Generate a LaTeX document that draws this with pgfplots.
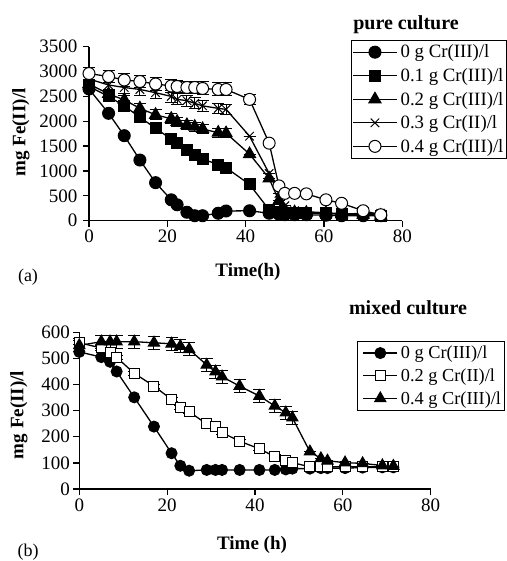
\documentclass[border=0pt]{standalone}
\usepackage{pgfplots}
\pgfplotsset{compat=1.18}
\usepackage{pgfplotstable}
\usepackage{fontspec}
\setmainfont{Liberation Serif}
\pgfplotstableread{
t v e
0 2650 0
5 2160 0
9 1710 0
13 1220 0
17 765 0
21 420 0
22.5 320 0
25 170 0
27 100 0
29 100 0
33 150 0
35 195 0
41 200 0
46 150 0
48.5 130 0
50 120 0
52.5 120 0
55.5 120 0
60.5 110 0
64.5 100 0
70 100 0
74.5 100 0
}\pa
\pgfplotstableread{
t v e
0 2700 0
5 2500 0
9 2310 0
13 2080 0
17 1860 0
21 1640 0
22.5 1570 0
25 1420 0
27 1320 0
29 1240 0
33 1130 0
35 1065 0
41 730 0
46 220 0
48.5 170 0
50 150 0
52.5 150 0
55.5 150 0
60.5 150 0
64.5 130 0
70 150 0
74.5 100 0
}\pb
\pgfplotstableread{
t v e
0 2750 80
5 2550 80
9 2430 90
13 2260 100
17 2130 100
21 2050 100
22.5 1990 90
25 1925 90
27 1890 90
29 1845 90
33 1770 90
35 1760 90
41 1340 0
46 850 0
48.5 400 0
50 200 0
52.5 170 0
55.5 160 0
60.5 150 0
64.5 130 0
70 120 0
74.5 100 0
}\pc
\pgfplotstableread{
t v e
0 2850 120
5 2730 130
9 2680 130
13 2640 130
17 2575 120
21 2500 120
22.5 2440 110
25 2415 110
27 2360 110
29 2310 110
33 2260 100
35 2240 100
41 1700 0
46 950 0
48.5 550 0
50 300 0
52.5 200 0
55.5 180 0
60.5 160 0
64.5 140 0
70 130 0
74.5 150 0
}\pd
\pgfplotstableread{
t v e
0 2960 120
5 2900 130
9 2830 130
13 2800 130
17 2750 130
21 2710 130
22.5 2700 130
25 2680 130
27 2680 130
29 2660 130
33 2640 130
35 2640 130
41 2440 100
46 1560 0
48.5 700 0
50 550 0
52.5 550 0
55.5 540 0
60.5 420 0
64.5 350 0
70 200 0
74.5 120 0
}\pe
\pgfplotstableread{
t v e
0 525 0
5 505 0
7 487 0
8.5 450 0
12.5 351 0
17 239 0
21 137 0
23 89 0
25 70 0
29 73 0
31 73 0
32.5 73 0
36.5 73 0
41 73 0
44.5 73 0
47 75 0
48.5 78 0
52.5 78 0
55 80 0
56.5 80 0
60.5 80 0
64.5 82 0
69 83 0
71.5 83 0
}\qa
\pgfplotstableread{
t v e
0 560 8
5 540 8
7 522 8
8.5 504 8
12.5 443 8
17 394 8
21 343 8
23 313 8
25 296 8
29 249 8
31 239 8
32.5 216 8
36.5 183 8
41 154 8
44.5 124 8
47 108 8
48.5 101 8
52.5 85 0
55 85 0
56.5 85 0
60.5 85 0
64.5 85 0
69 85 0
71.5 85 0
}\qb
\pgfplotstableread{
t v e
0 550 25
5 564 25
7 564 25
8.5 564 25
12.5 564 25
17 560 25
21 556 25
23 547 25
25 535 25
29 475 25
31 449 25
32.5 430 25
36.5 394 25
41 356 25
44.5 318 25
47 292 25
48.5 273 25
52.5 143 0
55 117 0
56.5 108 0
60.5 101 0
64.5 98 0
69 90 0
71.5 88 0
}\qc
\pgfplotsset{
  every axis/.append style={
    scale only axis, axis lines=left, axis line style={line width=1.3pt,-},
    tick align=outside, major tick length=6pt,
    tick style={line width=1.3pt,black},
    tick label style={font=\fontsize{19}{22}\selectfont},
    /pgf/number format/assume math mode=true,
    /pgf/number format/set thousands separator={},
    clip=false,
    legend cell align=left,
  },
  every axis plot post/.append style={black, line width=1.3pt},
  /pgfplots/error bars/error bar style={line width=1pt,black},
  /pgfplots/error bars/error mark options={rotate=90,mark size=6pt,line width=1pt,black},
}
\begin{document}
\begin{tikzpicture}
\useasboundingbox (0,0) rectangle (506pt,-561pt);
\begin{axis}[at={(89pt,-220.7pt)}, anchor=south west, width=313.3pt, height=174pt,
  xmin=0, xmax=80, ymin=0, ymax=3500, xtick={0,20,...,80}, ytick={0,500,...,3500},
  yticklabel style={xshift=-2pt},
  legend image code/.code={\draw[mark repeat=2,mark phase=2,#1] plot coordinates {(0pt,0pt) (22pt,0pt) (44pt,0pt)};},
  legend style={at={(0.836,1.0385)}, anchor=north west, draw=black, line width=0.8pt,
    font=\fontsize{18.8}{22}\selectfont, inner xsep=1pt, inner ysep=2.5pt, row sep=5pt,
    /tikz/every odd column/.append style={column sep=1pt}}]
\addplot[mark=*, mark size=6pt, mark options={solid,fill=black,line width=1pt}] table[x=t,y=v] {\pa};
\addlegendentry{0 g Cr(III)/l}
\addplot[mark=square*, mark size=5.5pt, mark options={solid,fill=black,line width=1pt}] table[x=t,y=v] {\pb};
\addlegendentry{0.1 g Cr(III)/l}
\addplot[mark=triangle*, mark size=7pt, mark options={solid,fill=black,line width=1pt},
  error bars/.cd, y dir=both, y explicit] table[x=t,y=v,y error=e] {\pc};
\addlegendentry{0.2 g Cr(III)/l}
\addplot[mark=x, mark size=6pt, mark options={solid,line width=1pt},
  error bars/.cd, y dir=both, y explicit] table[x=t,y=v,y error=e] {\pd};
\addlegendentry{0.3 g Cr(II)/l}
\addplot[mark=*, mark size=6pt, mark options={solid,fill=white,line width=1pt},
  error bars/.cd, y dir=both, y explicit] table[x=t,y=v,y error=e] {\pe};
\addlegendentry{0.4 g Cr(III)/l}
\end{axis}
\begin{axis}[at={(79.3pt,-489pt)}, anchor=south west, width=351.4pt, height=156.7pt,
  xmin=0, xmax=80, ymin=0, ymax=600, xtick={0,20,...,80}, ytick={0,100,...,600},
  legend image code/.code={\path (0pt,0pt); \draw[mark repeat=2,mark phase=2,#1] plot coordinates {(4pt,0pt) (21pt,0pt) (38pt,0pt)};},
  legend style={at={(0.791,0.944)}, anchor=north west, draw=black, line width=0.8pt,
    font=\fontsize{18.3}{22}\selectfont, inner xsep=1pt, inner ysep=2.5pt, row sep=4.5pt,
    /tikz/every odd column/.append style={column sep=1pt}}]
\addplot[mark=*, mark size=5.5pt, mark options={solid,fill=black,line width=1pt}] table[x=t,y=v] {\qa};
\addlegendentry{0 g Cr(III)/l}
\addplot[mark=square*, mark size=5pt, mark options={solid,fill=white,line width=1pt},
  error bars/.cd, y dir=both, y explicit] table[x=t,y=v,y error=e] {\qb};
\addlegendentry{0.2 g Cr(II)/l}
\addplot[mark=triangle*, mark size=6.5pt, mark options={solid,fill=black,line width=1pt},
  error bars/.cd, y dir=both, y explicit] table[x=t,y=v,y error=e] {\qc};
\addlegendentry{0.4 g Cr(III)/l}
\end{axis}
\node[font=\bfseries\fontsize{20}{22}\selectfont] at (406pt,-25pt) {pure culture};
\node[font=\bfseries\fontsize{20}{22}\selectfont] at (408pt,-308pt) {mixed culture};
\node[font=\bfseries\fontsize{19}{22}\selectfont, rotate=90] at (21pt,-132.5pt) {mg Fe(II)/l};
\node[font=\bfseries\fontsize{19}{22}\selectfont, rotate=90] at (19pt,-415pt) {mg Fe(II)/l};
\node[font=\bfseries\fontsize{19}{22}\selectfont] at (248pt,-272pt) {Time(h)};
\node[font=\bfseries\fontsize{19}{22}\selectfont] at (252pt,-545pt) {Time (h)};
\node[font=\fontsize{18}{20}\selectfont] at (28pt,-277pt) {(a)};
\node[font=\fontsize{18}{20}\selectfont] at (28pt,-552pt) {(b)};
\end{tikzpicture}
\end{document}
